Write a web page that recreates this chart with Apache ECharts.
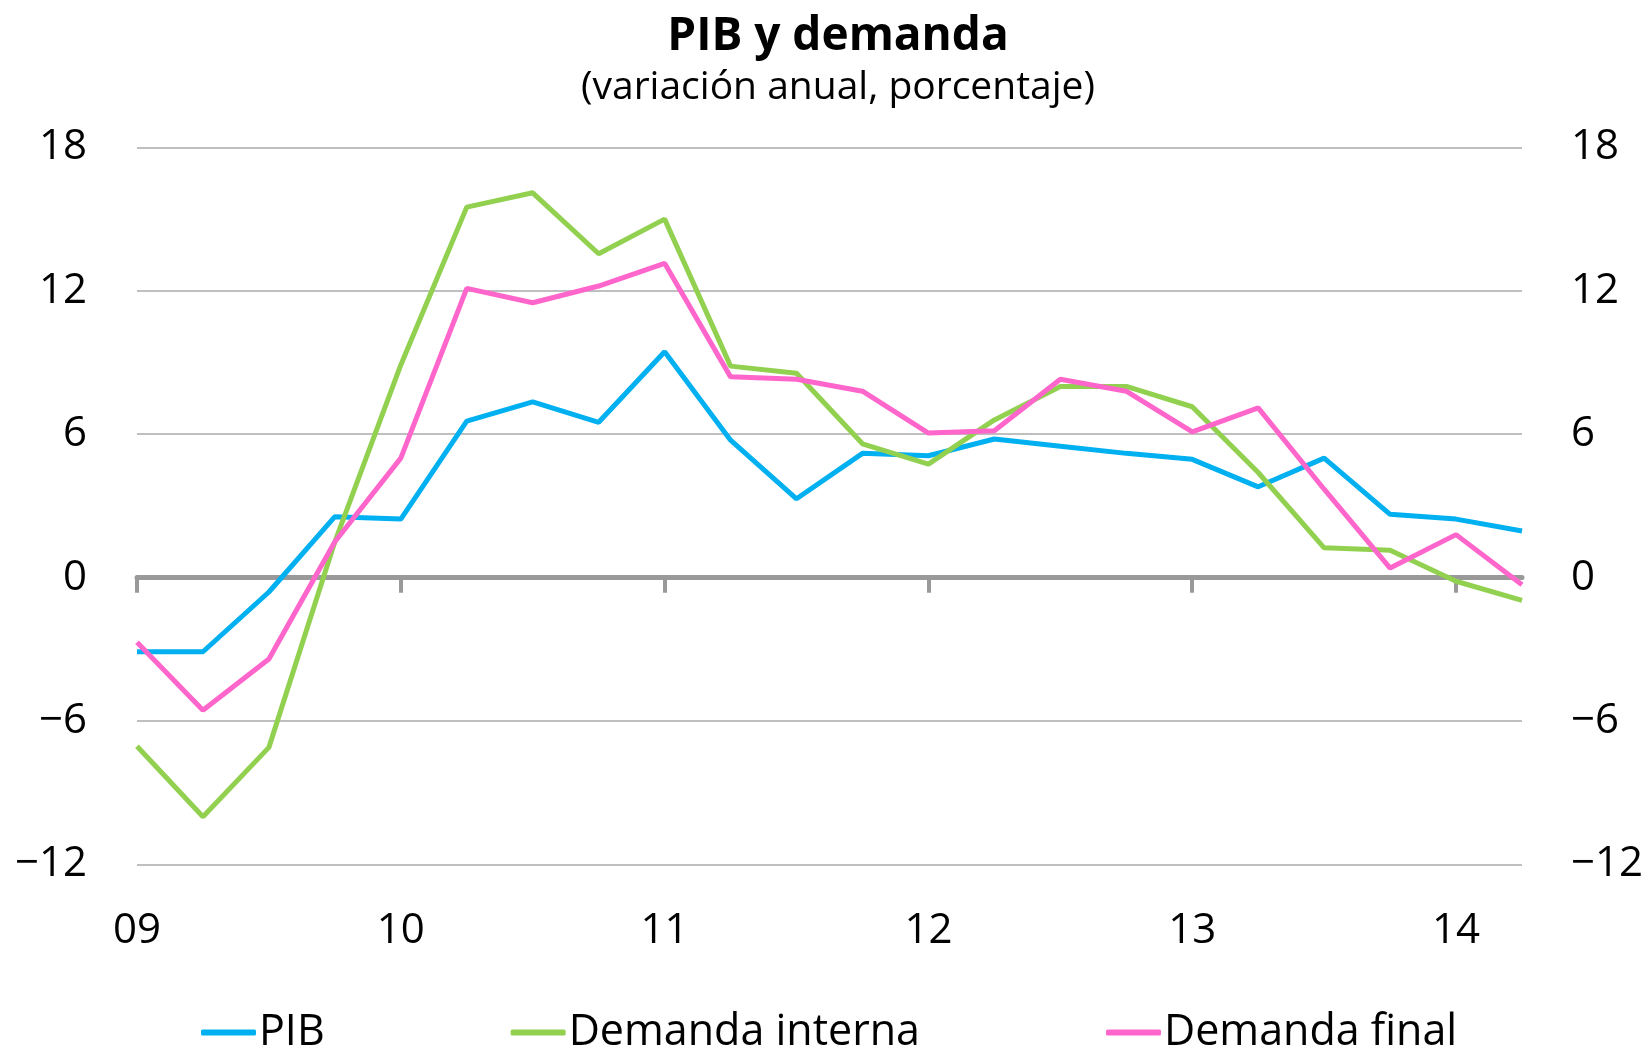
<!DOCTYPE html>
<html>
<head>
<meta charset="utf-8">
<script src="https://cdn.jsdelivr.net/npm/echarts@6/dist/echarts.min.js"></script>
<style>
html,body{margin:0;padding:0;background:#fff;}
#chart{width:1651px;height:1049px;}
</style>
</head>
<body>
<div id="chart"></div>
<script>
const categories = ['09-I','09-II','09-III','09-IV','10-I','10-II','10-III','10-IV','11-I','11-II','11-III','11-IV','12-I','12-II','12-III','12-IV','13-I','13-II','13-III','13-IV','14-I','14-II'];
const pib = [-3.1, -3.1, -0.6, 2.55, 2.45, 6.55, 7.35, 6.5, 9.45, 5.75, 3.3, 5.2, 5.1, 5.8, 5.5, 5.2, 4.95, 3.8, 5.0, 2.65, 2.45, 1.95];
const demandaInterna = [-7.05, -10.0, -7.1, 1.5, 8.9, 15.5, 16.1, 13.55, 15.0, 8.85, 8.55, 5.6, 4.75, 6.6, 8.0, 8.0, 7.15, 4.4, 1.25, 1.15, -0.15, -0.95];
const demandaFinal = [-2.7, -5.55, -3.4, 1.5, 5.0, 12.1, 11.5, 12.2, 13.15, 8.4, 8.3, 7.8, 6.05, 6.15, 8.3, 7.8, 6.1, 7.1, 3.7, 0.4, 1.8, -0.3];
const seriesNames = ['PIB', 'Demanda interna', 'Demanda final'];
const yTicks = {min: -12, max: 18, interval: 6};
const titleText = 'PIB y demanda';
const subtitleText = '(variación anual, porcentaje)';

const FONT = '"Open Sans", sans-serif';
const chart = echarts.init(document.getElementById('chart'));
const fmtY = v => String(v).replace('-', '\u2212');
const fmtX = v => v.split('-')[0];

chart.setOption({
  animation: false,
  backgroundColor: '#ffffff',
  title: [
    {text: titleText, left: 833, top: 9, textAlign: 'center',
     textStyle: {fontFamily: FONT, fontWeight: 'bold', fontSize: 46, color: '#000'}},
    {text: subtitleText, left: 833, top: 63, textAlign: 'center',
     textStyle: {fontFamily: FONT, fontWeight: 500, fontSize: 39, color: '#000'}}
  ],
  legend: {
    data: seriesNames, left: 196, top: 1006, itemGap: 186,
    icon: 'roundRect', itemWidth: 55, itemHeight: 6,
    textStyle: {fontFamily: FONT, fontWeight: 500, fontSize: 43, color: '#000', padding: [0,0,0,-2]}
  },
  grid: {left: 137, right: 129, top: 147.4, bottom: 184.5, containLabel: false},
  xAxis: [
    {type: 'category', data: categories, boundaryGap: false,
     axisLine: {onZero: true, lineStyle: {color: '#999999', width: 5}},
     axisTick: {show: true, interval: 3, length: 15, lineStyle: {color: '#999999', width: 4}},
     axisLabel: {show: false}, splitLine: {show: false}},
    {type: 'category', data: categories, boundaryGap: false, position: 'bottom',
     axisLine: {show: false, onZero: false}, axisTick: {show: false},
     axisLabel: {show: true, interval: 3, formatter: fmtX, margin: 46,
                 fontFamily: FONT, fontWeight: 500, fontSize: 42, color: '#000'},
     splitLine: {show: false}}
  ],
  yAxis: [
    {type: 'value', position: 'left', min: yTicks.min, max: yTicks.max, interval: yTicks.interval,
     axisLine: {show: false}, axisTick: {show: false},
     axisLabel: {formatter: fmtY, margin: 50, fontFamily: FONT, fontWeight: 500, fontSize: 42, color: '#000'},
     splitLine: {show: true, lineStyle: {color: '#bfbfbf', width: 2}}},
    {type: 'value', position: 'right', min: yTicks.min, max: yTicks.max, interval: yTicks.interval,
     axisLine: {show: false}, axisTick: {show: false},
     axisLabel: {formatter: fmtY, margin: 49, fontFamily: FONT, fontWeight: 500, fontSize: 42, color: '#000'},
     splitLine: {show: false}}
  ],
  series: [
    {name: seriesNames[0], type: 'line', data: pib, symbol: 'none', xAxisIndex: 0, yAxisIndex: 0,
     color: '#00b0f0', lineStyle: {color: '#00b0f0', width: 5}},
    {name: seriesNames[1], type: 'line', data: demandaInterna, symbol: 'none', xAxisIndex: 0, yAxisIndex: 0,
     color: '#92d050', lineStyle: {color: '#92d050', width: 5}},
    {name: seriesNames[2], type: 'line', data: demandaFinal, symbol: 'none', xAxisIndex: 0, yAxisIndex: 0,
     color: '#ff66cc', lineStyle: {color: '#ff66cc', width: 5}}
  ]
});
</script>
</body>
</html>
